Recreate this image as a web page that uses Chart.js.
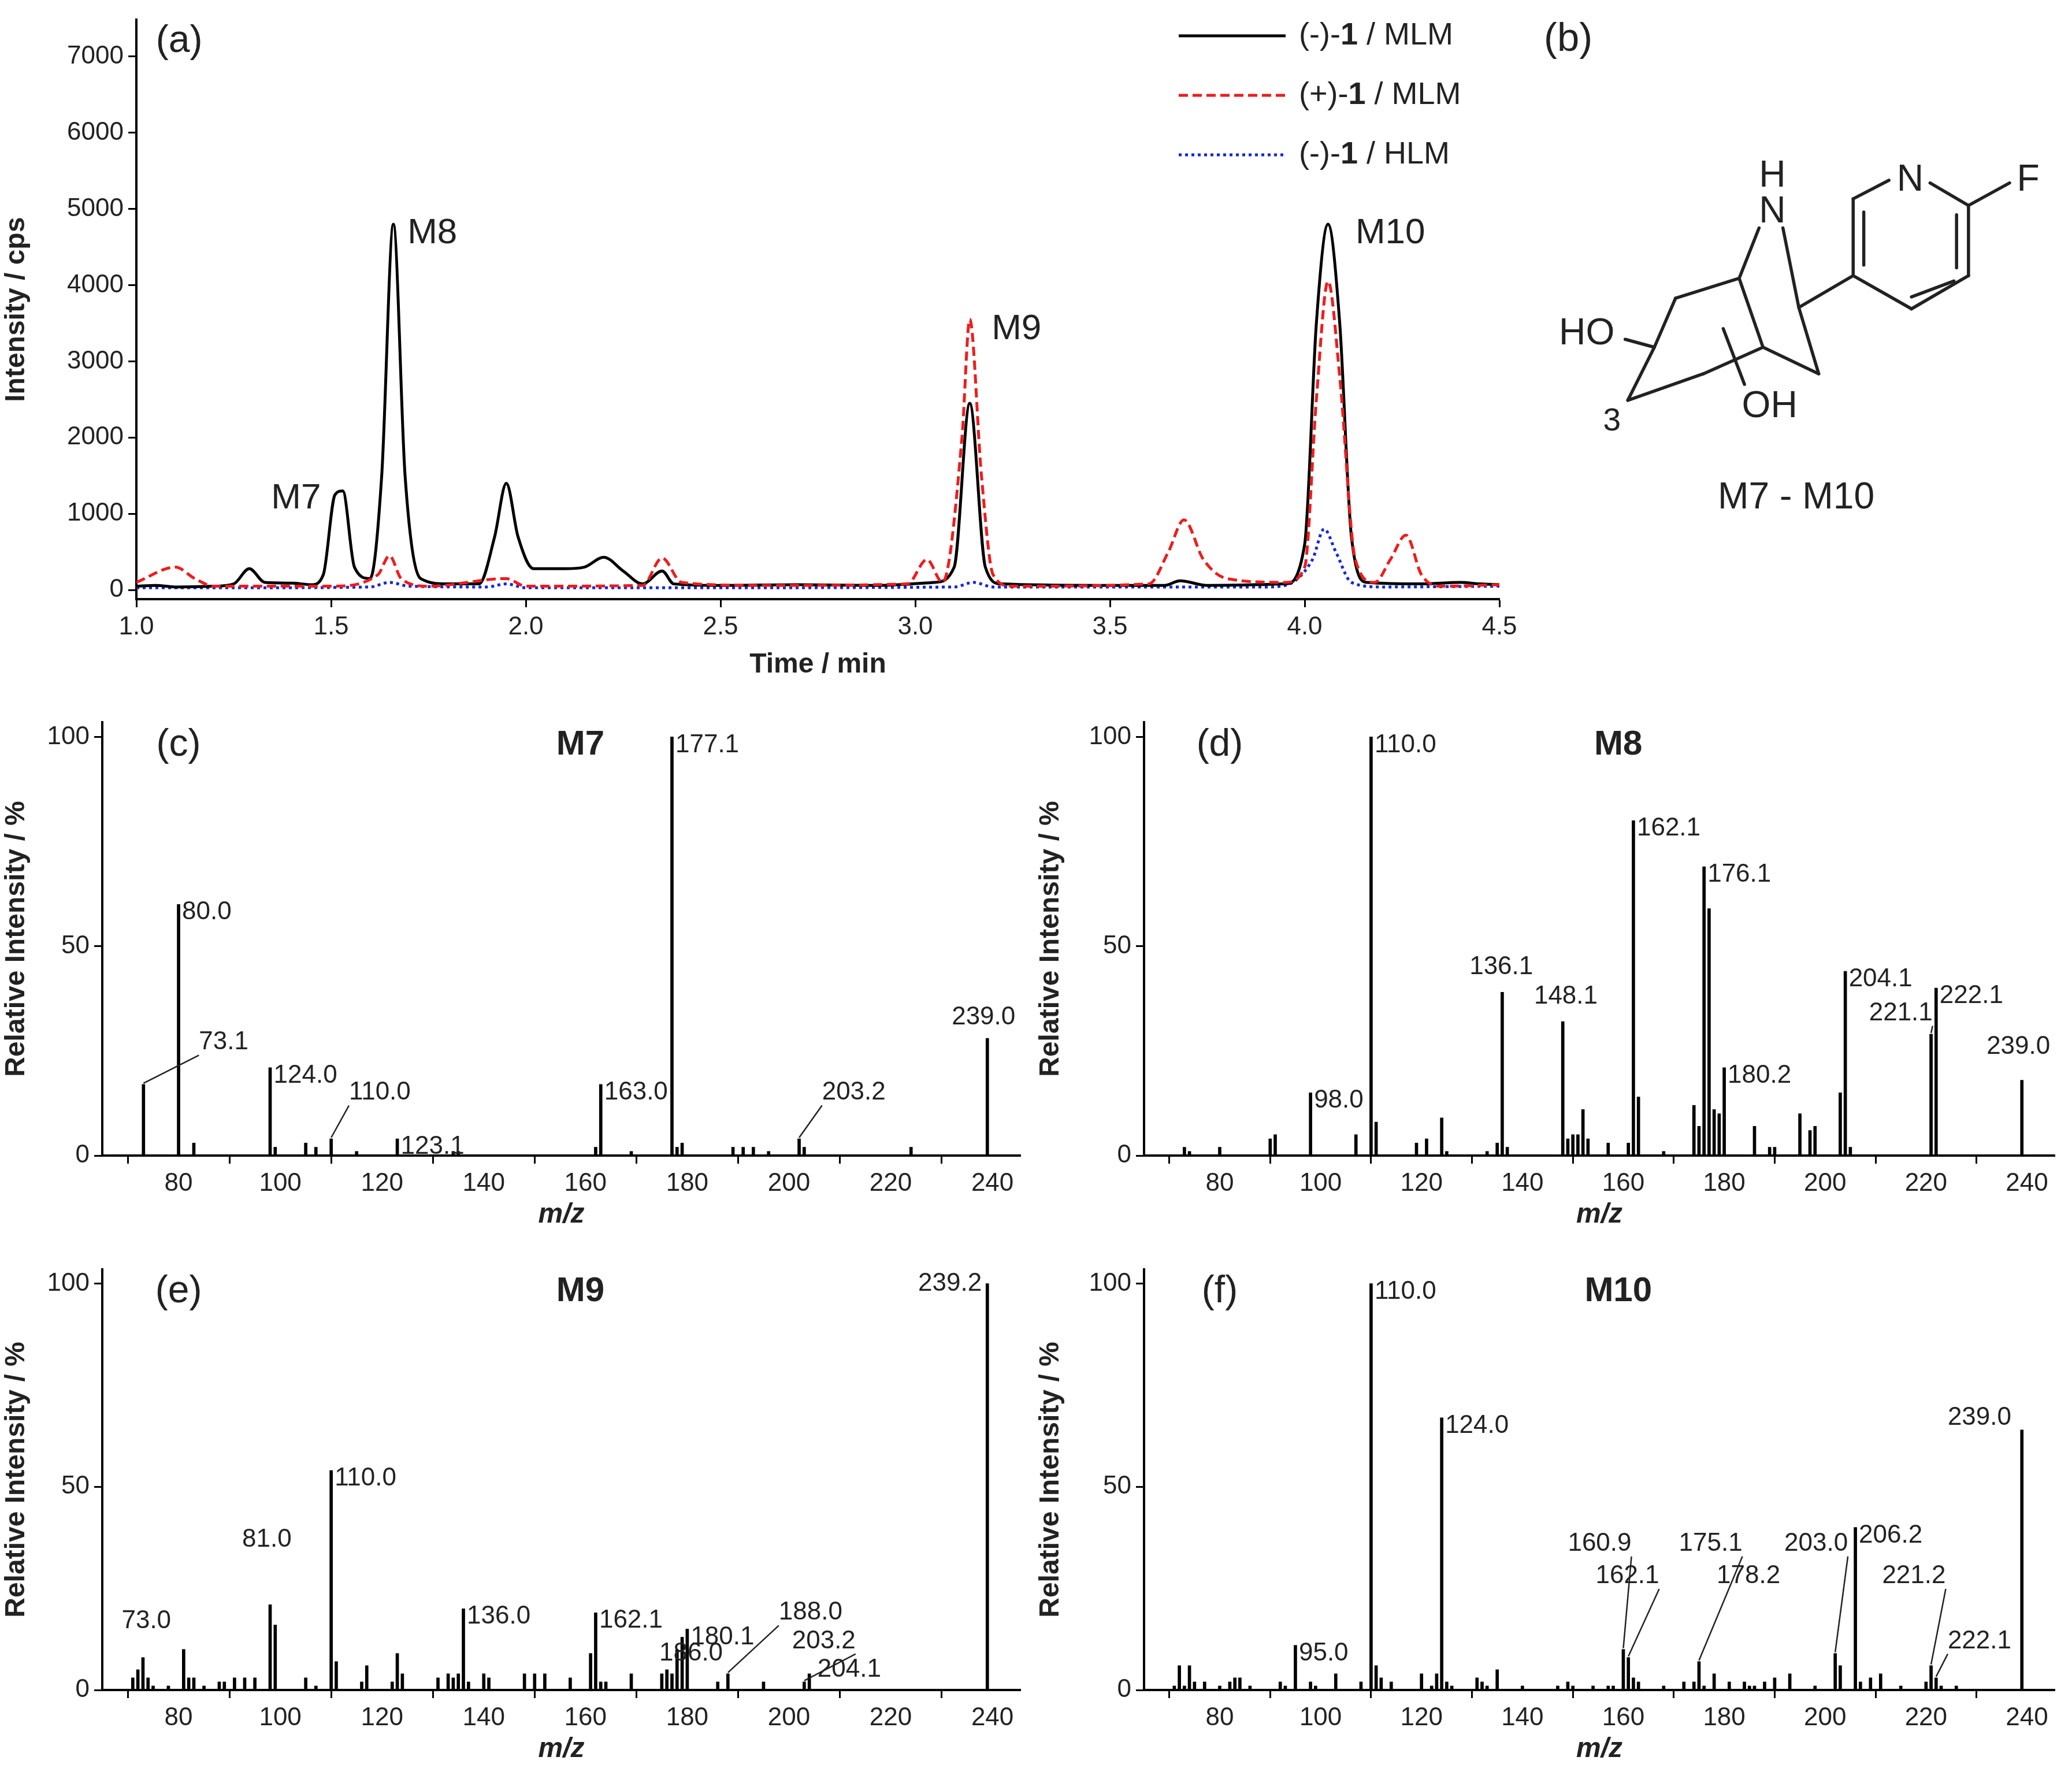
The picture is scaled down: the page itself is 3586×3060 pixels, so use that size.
<!DOCTYPE html>
<html>
<head>
<meta charset="utf-8">
<script src="https://cdn.jsdelivr.net/npm/chart.js@4.4.1/dist/chart.umd.min.js"></script>
<style>
  body { margin: 0; background: #fff; }
  #wrap { position: relative; width: 3586px; height: 3060px; background: #fff; overflow: hidden; }
  canvas { position: absolute; }
</style>
</head>
<body>
<div id="wrap">
  <canvas id="chrom"></canvas>
  <canvas id="struct"></canvas>
  <canvas id="specC"></canvas>
  <canvas id="specD"></canvas>
  <canvas id="specE"></canvas>
  <canvas id="specF"></canvas>
</div>
<script>
// ---- chromatogram (a) ----
const timeTicks = [1.0, 1.5, 2.0, 2.5, 3.0, 3.5, 4.0, 4.5];
const intensityTicks = [0, 1000, 2000, 3000, 4000, 5000, 6000, 7000];

const mlmMinus = [
  [1.0, 50], [1.05, 60], [1.1, 40], [1.2, 50], [1.25, 80], [1.29, 280], [1.33, 100], [1.4, 90],
  [1.45, 70], [1.48, 200], [1.51, 1250], [1.53, 1300], [1.56, 300], [1.6, 150], [1.63, 1500],
  [1.66, 4800], [1.69, 1500], [1.73, 150], [1.8, 80], [1.88, 80], [1.92, 700], [1.95, 1400],
  [1.98, 700], [2.02, 280], [2.1, 280], [2.15, 300], [2.2, 430], [2.25, 250], [2.3, 80],
  [2.35, 250], [2.38, 80], [2.5, 60], [2.7, 70], [2.9, 60], [3.05, 100], [3.1, 300],
  [3.14, 2450], [3.18, 300], [3.22, 80], [3.5, 60], [3.64, 60], [3.68, 120], [3.75, 60],
  [3.95, 80], [4.0, 600], [4.03, 3500], [4.06, 4800], [4.09, 3500], [4.12, 700], [4.16, 100],
  [4.3, 80], [4.4, 100], [4.45, 80], [4.5, 70]
];
const mlmPlus = [
  [1.0, 100], [1.1, 300], [1.15, 150], [1.2, 50], [1.5, 50], [1.62, 200], [1.65, 450],
  [1.68, 150], [1.75, 50], [1.95, 150], [2.0, 50], [2.3, 60], [2.35, 420], [2.4, 100],
  [2.6, 60], [2.98, 80], [3.03, 400], [3.07, 100], [3.12, 2000], [3.14, 3550], [3.17, 1500],
  [3.2, 200], [3.25, 50], [3.6, 80], [3.65, 500], [3.69, 920], [3.74, 400], [3.8, 150],
  [3.95, 100], [4.0, 300], [4.03, 2500], [4.06, 4050], [4.09, 2800], [4.13, 400], [4.18, 100],
  [4.22, 400], [4.26, 720], [4.3, 200], [4.35, 50], [4.5, 70]
];
const hlmMinus = [
  [1.0, 30], [1.3, 30], [1.6, 40], [1.65, 100], [1.7, 50], [1.9, 40], [1.95, 80], [2.0, 30],
  [2.5, 30], [3.1, 40], [3.15, 100], [3.2, 40], [3.9, 40], [3.95, 60], [4.02, 400],
  [4.05, 800], [4.08, 500], [4.12, 100], [4.2, 40], [4.5, 50]
];
const peakNames = [["M7", 1.41, 1200], ["M8", 1.76, 4680], ["M9", 3.26, 3420], ["M10", 4.22, 4680]];

// ---- spectra (c)-(f) ----
const mzTicks = [80, 100, 120, 140, 160, 180, 200, 220, 240];
const relTicks = [0, 50, 100];

const m7Peaks = [[73.1, 17], [80, 60], [83, 3], [98, 21], [99, 2], [105, 3], [107, 2], [110, 4],
  [115, 1], [123, 4], [134, 1], [135, 1], [162, 2], [163, 17], [169, 1], [177, 100], [178, 2],
  [179, 3], [189, 2], [191, 2], [193, 2], [196, 1], [202, 4], [203, 2], [224, 2], [239, 28]];
const m7Labels = [[73.1, "73.1", 84, 27, true], [80, "80.0"], [98, "124.0"], [110, "110.0", 113.5, 15, true],
  [123, "123.1"], [163, "163.0"], [177, "177.1"], [202, "203.2", 206.5, 15, true], [239, "239.0", 232, 33]];

const m8Peaks = [[73, 2], [74, 1], [80, 2], [90, 4], [91, 5], [98, 15], [107, 5], [110, 100], [111, 8],
  [119, 3], [121, 4], [124, 9], [125, 1], [133, 1], [135, 3], [136, 39], [137, 2], [148, 32], [149, 4],
  [150, 5], [151, 5], [152, 11], [153, 4], [157, 3], [161, 3], [162, 80], [163, 14], [168, 1], [174, 12],
  [175, 7], [176, 69], [177, 59], [178, 11], [179, 10], [180, 21], [186, 7], [189, 2], [190, 2],
  [195, 10], [197, 6], [198, 7], [203, 15], [204, 44], [205, 2], [221, 29], [222, 40], [239, 18]];
const m8Labels = [[98, "98.0"], [110, "110.0"], [136, "136.1", 129.5, 45], [148, "148.1", 142.3, 38],
  [162, "162.1"], [176, "176.1"], [180, "180.2"], [204, "204.1"], [221, "221.1", 208.7, 34, true],
  [222, "222.1"], [239, "239.0", 232, 26]];

const m9Peaks = [[71, 3], [72, 5], [73, 8], [74, 3], [75, 1], [78, 1], [81, 10], [82, 3], [83, 3],
  [85, 1], [88, 2], [89, 2], [91, 3], [93, 3], [95, 3], [98, 21], [99, 16], [105, 3], [107, 1],
  [110, 54], [111, 7], [116, 2], [117, 6], [122, 2], [123, 9], [124, 4], [131, 3], [133, 4], [134, 3],
  [135, 4], [136, 20], [137, 2], [140, 4], [141, 3], [148, 4], [150, 4], [152, 4], [157, 3], [161, 9],
  [162, 19], [163, 2], [164, 2], [169, 4], [175, 4], [176, 5], [177, 4], [178, 10], [179, 13], [180, 15],
  [186, 2], [188, 4], [195, 2], [203, 2], [204, 4], [239, 100]];
const m9Labels = [[73, "73.0", 68.8, 17], [98, "81.0", 92.5, 37], [110, "110.0"], [136, "136.0"],
  [162, "162.1"], [180, "180.1"], [186, "186.0", 174.5, 9], [188, "188.0", 198, 19, true],
  [203, "203.2", 200.6, 12, true], [204, "204.1", 205.6, 5], [239, "239.2", 225.4, 100]];

const m10Peaks = [[71, 1], [72, 6], [73, 1], [74, 6], [75, 2], [77, 2], [80, 1], [82, 2], [83, 3],
  [84, 3], [86, 1], [92, 2], [93, 1], [95, 11], [98, 2], [99, 1], [103, 4], [108, 2], [110, 100],
  [111, 6], [112, 3], [114, 2], [120, 4], [122, 1], [123, 4], [124, 67], [125, 2], [126, 1], [131, 3],
  [132, 2], [133, 1], [135, 5], [140, 1], [147, 1], [149, 2], [150, 1], [154, 1], [157, 1], [158, 1],
  [160, 10], [161, 8], [162, 3], [163, 2], [168, 1], [172, 2], [174, 2], [175, 7], [176, 1], [178, 4],
  [181, 2], [184, 2], [185, 1], [186, 1], [188, 2], [190, 3], [193, 4], [198, 1], [202, 9], [203, 6],
  [206, 40], [207, 2], [209, 3], [211, 4], [215, 1], [220, 2], [221, 6], [222, 3], [223, 1], [226, 1],
  [239, 64]];
const m10Labels = [[95, "95.0"], [110, "110.0"], [124, "124.0"], [160, "160.9", 149, 36, true],
  [161, "162.1", 154.5, 28, true], [175, "175.1", 171, 36, true], [178, "178.2", 178.5, 28],
  [202, "203.0", 191.9, 36, true], [206, "206.2"], [221, "221.2", 211.3, 28, true],
  [222, "222.1", 224.3, 12, true], [239, "239.0", 224.3, 67]];

const FONT = "'Liberation Sans', Arial, sans-serif";

function place(id, left, top, w, h) {
  const c = document.getElementById(id);
  c.width = w; c.height = h;
  c.style.left = left + "px"; c.style.top = top + "px";
  c.style.width = w + "px"; c.style.height = h + "px";
  return c;
}

function axisStyle(extra) {
  return Object.assign({
    border: { color: "#000", width: 4 },
    grid: { drawOnChartArea: false, color: "#000", tickLength: 14, tickWidth: 3 },
    ticks: { color: "#222", font: { family: FONT, size: 44 }, padding: 8, autoSkip: false, maxRotation: 0 }
  }, extra);
}

// ---- panel (a)
const chromCanvas = place("chrom", 0, 0, 2700, 1180);
const chromText = {
  id: "chromText",
  afterDraw(chart) {
    const { ctx, scales: { x, y } } = chart;
    ctx.save();
    ctx.fillStyle = "#222";
    ctx.font = "66px " + FONT;
    ctx.textAlign = "center"; ctx.textBaseline = "middle";
    ctx.fillText("(a)", x.getPixelForValue(1.11), y.getPixelForValue(7200));
    ctx.font = "62px " + FONT;
    peakNames.forEach(([t, px, py]) => ctx.fillText(t, x.getPixelForValue(px), y.getPixelForValue(py)));
    // legend
    const items = [["(-)-", " / MLM", "#000", []], ["(+)-", " / MLM", "#ee1c1c", [16, 8]], ["(-)-", " / HLM", "#1428dc", [5, 6]]];
    items.forEach(([pre, post, col, dash], i) => {
      const yy = 62 + i * 103;
      ctx.strokeStyle = col; ctx.lineWidth = 5; ctx.setLineDash(dash);
      ctx.beginPath(); ctx.moveTo(2040, yy); ctx.lineTo(2225, yy); ctx.stroke();
      ctx.setLineDash([]);
      ctx.textAlign = "left"; ctx.fillStyle = "#222";
      let xx = 2248;
      ctx.font = "54px " + FONT; ctx.fillText(pre, xx, yy); xx += ctx.measureText(pre).width;
      ctx.font = "bold 54px " + FONT; ctx.fillText("1", xx, yy); xx += ctx.measureText("1").width;
      ctx.font = "54px " + FONT; ctx.fillText(post, xx, yy);
    });
    ctx.restore();
  }
};
const toPts = arr => arr.map(([x, y]) => ({ x, y }));
new Chart(chromCanvas, {
  type: "line",
  data: {
    datasets: [
      { label: "(-)-1 / HLM", data: toPts(hlmMinus), borderColor: "#1428dc", borderDash: [5, 6], order: 3 },
      { label: "(-)-1 / MLM", data: toPts(mlmMinus), borderColor: "#000", order: 2 },
      { label: "(+)-1 / MLM", data: toPts(mlmPlus), borderColor: "#ee1c1c", borderDash: [16, 8], order: 1 }
    ].map(d => Object.assign(d, { borderWidth: 5, pointRadius: 0, cubicInterpolationMode: "monotone", fill: false }))
  },
  options: {
    responsive: false, devicePixelRatio: 1, animation: false,
    layout: { padding: { top: 28, right: 105 } },
    plugins: { legend: { display: false }, tooltip: { enabled: false } },
    scales: {
      x: axisStyle({
        type: "linear", min: 1, max: 4.5,
        afterBuildTicks: s => { s.ticks = timeTicks.map(v => ({ value: v })); },
        afterFit: s => { s.height = 143; },
        ticks: Object.assign(axisStyle().ticks, { callback: v => v.toFixed(1) }),
        title: { display: true, text: "Time / min", color: "#222", font: { family: FONT, size: 48, weight: "bold" }, padding: 0 }
      }),
      y: axisStyle({
        min: -120, max: 7480,
        afterBuildTicks: s => { s.ticks = intensityTicks.map(v => ({ value: v })); },
        afterFit: s => { s.width = 236; },
        ticks: Object.assign(axisStyle().ticks, { callback: v => String(v) }),
        title: { display: true, text: "Intensity / cps", color: "#222", font: { family: FONT, size: 48, weight: "bold" }, padding: 0 }
      })
    }
  },
  plugins: [chromText]
});

// ---- panel (b) structure
(function drawStructure() {
  const c = place("struct", 2620, 0, 966, 960);
  const ctx = c.getContext("2d");
  const k = 2.294;
  ctx.scale(k, k);
  ctx.translate(-1142, 0);
  ctx.strokeStyle = "#222"; ctx.fillStyle = "#222"; ctx.lineWidth = 2.4; ctx.lineCap = "round";
  const line = (a, b, c2, d) => { ctx.beginPath(); ctx.moveTo(a, b); ctx.lineTo(c2, d); ctx.stroke(); };
  ctx.font = "30px " + FONT; ctx.textAlign = "center"; ctx.textBaseline = "middle";
  ctx.fillText("(b)", 1183, 30);
  ctx.font = "28px " + FONT;
  ctx.fillText("H", 1337, 133);
  ctx.fillText("N", 1337, 160);
  ctx.fillText("N", 1441, 136);
  ctx.fillText("F", 1530, 136);
  ctx.fillText("HO", 1197, 252);
  ctx.fillText("OH", 1335, 307);
  ctx.font = "24px " + FONT;
  ctx.fillText("3", 1216, 318);
  ctx.font = "28px " + FONT;
  ctx.fillText("M7 - M10", 1355, 376);
  // pyridine
  line(1398, 150, 1425, 136); line(1456, 138, 1485, 155);
  line(1485, 155, 1485, 208); line(1485, 208, 1442, 233);
  line(1442, 233, 1398, 208); line(1398, 208, 1398, 150);
  line(1406, 160, 1406, 200); line(1476, 162, 1476, 202);
  line(1474, 212, 1442, 224);
  line(1485, 155, 1516, 138);
  // bicycle
  line(1398, 208, 1357, 232);
  line(1327, 172, 1312, 210); line(1345, 172, 1357, 232);
  line(1312, 210, 1264, 225); line(1264, 225, 1248, 262);
  line(1248, 262, 1228, 302); line(1228, 302, 1285, 282);
  line(1285, 282, 1330, 262); line(1330, 262, 1312, 210);
  line(1357, 232, 1372, 282); line(1372, 282, 1330, 262);
  line(1248, 262, 1226, 256);
  line(1300, 248, 1316, 290);
})();

// ---- spectra
function spectrum(id, left, top, yW, plotH, peaks, labels, title, letter) {
  const xH = 132;
  const c = place(id, left, top, 1796, 40 + plotH + xH);
  const textPlugin = {
    id: "specText",
    afterDraw(chart) {
      const { ctx, scales: { x, y } } = chart;
      ctx.save();
      ctx.fillStyle = "#222"; ctx.strokeStyle = "#222"; ctx.lineWidth = 2.5;
      ctx.font = "66px " + FONT; ctx.textAlign = "center"; ctx.textBaseline = "middle";
      ctx.fillText(letter, x.getPixelForValue(80), y.getPixelForValue(98));
      ctx.font = "bold 60px " + FONT;
      ctx.fillText(title, x.getPixelForValue(159), y.getPixelForValue(98));
      ctx.font = "44px " + FONT; ctx.textAlign = "left";
      labels.forEach(([mz, txt, tx, ty, leader]) => {
        const py = peaks.find(p => p[0] === mz)[1];
        const bx = x.getPixelForValue(mz), by = y.getPixelForValue(py);
        let lx, ly;
        if (tx === undefined) { lx = bx + 6; ly = by + 14; }
        else { lx = x.getPixelForValue(tx); ly = y.getPixelForValue(ty); }
        ctx.fillText(txt, lx, ly);
        if (leader) {
          const w = ctx.measureText(txt).width;
          const ex = bx < lx ? lx : lx + w;
          ctx.beginPath(); ctx.moveTo(bx, by - 2); ctx.lineTo(ex, ly + 22); ctx.stroke();
        }
      });
      ctx.restore();
    }
  };
  new Chart(c, {
    type: "bar",
    data: {
      datasets: [{
        data: peaks.map(([x, y]) => ({ x, y })),
        backgroundColor: "#000", barThickness: 5, borderWidth: 0
      }]
    },
    options: {
      responsive: false, devicePixelRatio: 1, animation: false,
      layout: { padding: { top: 40, right: 30 } },
      plugins: { legend: { display: false }, tooltip: { enabled: false } },
      scales: {
        x: axisStyle({
          type: "linear", min: 65, max: 245.5, offset: false,
          afterBuildTicks: s => { s.ticks = mzTicks.map(v => ({ value: v })); },
          afterFit: s => { s.height = xH; },
          title: { display: true, text: "m/z", color: "#222", font: { family: FONT, size: 48, weight: "bold", style: "italic" }, padding: 0 }
        }),
        y: axisStyle({
          min: 0, max: 103.5,
          afterBuildTicks: s => { s.ticks = relTicks.map(v => ({ value: v })); },
          afterFit: s => { s.width = yW; },
          title: { display: true, text: "Relative Intensity / %", color: "#222", font: { family: FONT, size: 48, weight: "bold" }, padding: 0 }
        })
      }
    },
    plugins: [textPlugin]
  });
}

spectrum("specC", 0, 1210, 177, 750, m7Peaks, m7Labels, "M7", "(c)");
spectrum("specD", 1790, 1210, 190, 750, m8Peaks, m8Labels, "M8", "(d)");
spectrum("specE", 0, 2157, 177, 728, m9Peaks, m9Labels, "M9", "(e)");
spectrum("specF", 1790, 2157, 190, 728, m10Peaks, m10Labels, "M10", "(f)");
</script>
</body>
</html>
